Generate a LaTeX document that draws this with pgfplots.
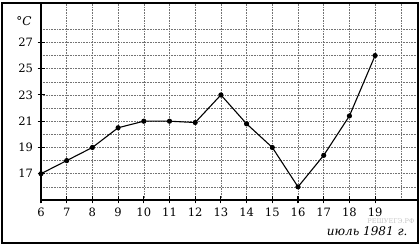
\documentclass[border=0pt]{standalone}
\usepackage{fontspec}
\setmainfont{DejaVu Serif}
\usepackage{pgfplots}
\pgfplotsset{compat=1.18}
\begin{document}
\begin{tikzpicture}[x=1pt,y=1pt]
\path[use as bounding box] (0,0) rectangle (420,248);
\begin{axis}[
  at={(41pt,48pt)}, anchor=south west,
  scale only axis, width=376pt, height=197pt,
  xmin=6, xmax=20.63, ymin=15, ymax=30,
  axis lines*=left, axis line style={-, line width=1.1pt},
  xtick={6,...,19}, ytick={17,19,...,27},
  minor xtick={20}, minor ytick={16,18,...,30},
  grid=both,
  major grid style={black!55, line width=0.5pt, dash pattern=on 1pt off 0.6pt},
  minor grid style={black!55, line width=0.5pt, dash pattern=on 1pt off 0.6pt},
  tick align=center, major tick length=7pt, minor tick length=0pt,
  tick style={black, line width=1.1pt},
  every tick label/.append style={font=\fontsize{11.5}{13}\selectfont},
  /pgf/number format/assume math mode=true,
  xticklabel style={yshift=-1pt},
  yticklabel style={xshift=-1pt},
  clip=false,
]
\addplot[black, line width=1.1pt, mark=*, mark size=2pt] coordinates {
 (6,17) (7,18) (8,19) (9,20.5) (10,21) (11,21) (12,20.9) (13,23)
 (14,20.8) (15,19) (16,16) (17,18.4) (18,21.4) (19,26)
};
\end{axis}
\draw[line width=1.2pt] (2,5) rectangle (418,245);
\node[font=\fontsize{12}{14}\selectfont\itshape] at (24,227) {°C};
\node[anchor=east, font=\fontsize{12}{14}\selectfont\itshape] at (411,17) {июль 1981 г.};
\node[anchor=east, text=gray!45, font=\fontsize{6.5}{7}\selectfont] at (418,27) {РЕШУЕГЭ.РФ};
\end{tikzpicture}
\end{document}
